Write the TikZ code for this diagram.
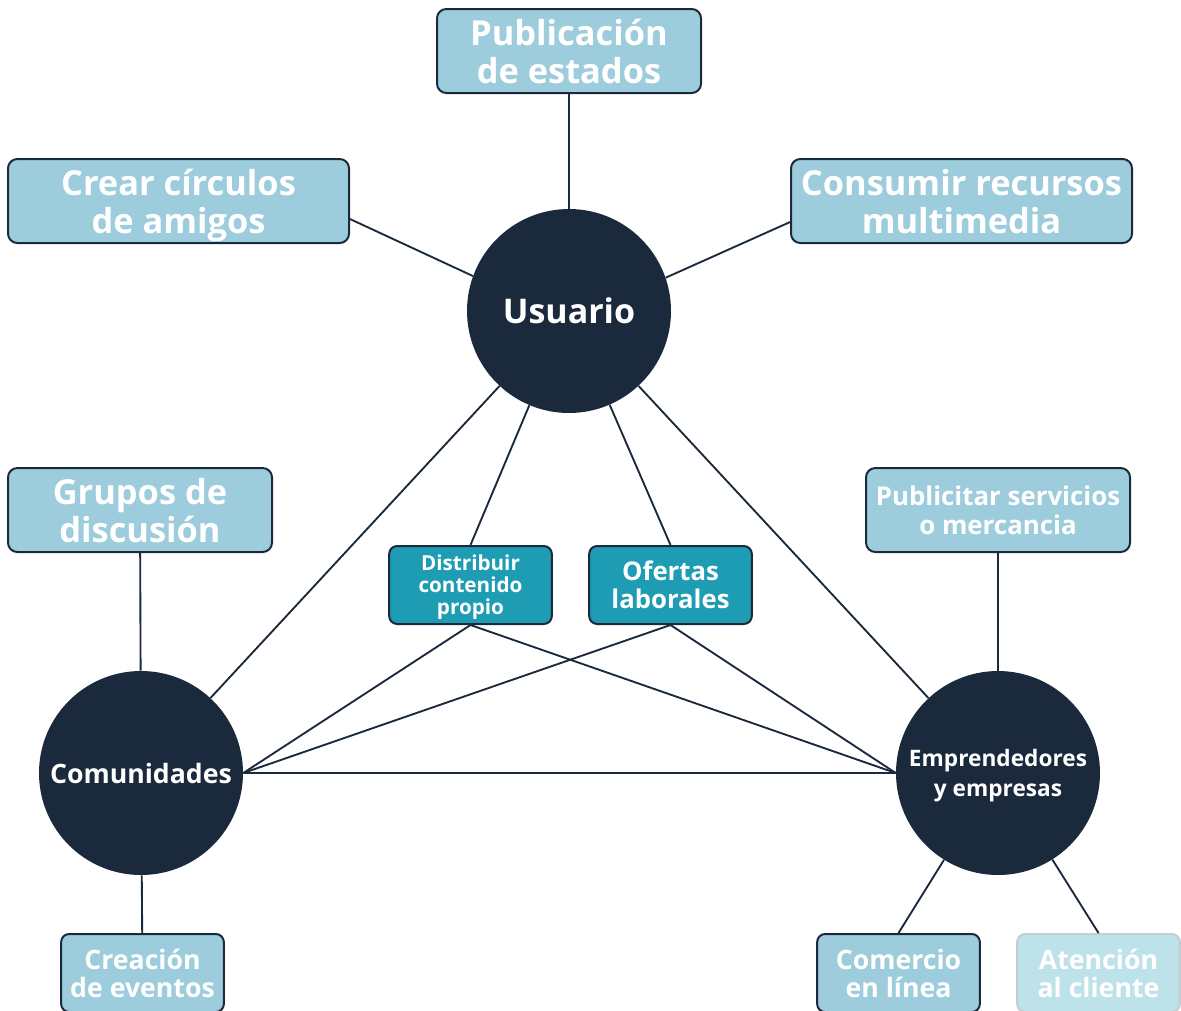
\documentclass[tikz,border=0pt]{standalone}
\usepackage{fontspec}
\setmainfont{Open Sans}
\usepackage{xcolor}
\usepackage{tikz}
\usetikzlibrary{positioning}

\definecolor{navy}{HTML}{1A2A3C}
\definecolor{skyfill}{HTML}{9DCDDC}
\definecolor{tealfill}{HTML}{1E9CB4}
\definecolor{palefill}{HTML}{BEE2EA}
\definecolor{paleline}{HTML}{C4CDD1}

\begin{document}
\begin{tikzpicture}[x=0.75pt, y=-0.75pt,
    every node/.style={text=white, align=center, inner sep=0pt},
    hub/.style={circle, fill=navy, minimum size=153pt},
    topic/.style={draw=navy, line width=1.5pt, fill=skyfill, rounded corners=7pt,
        minimum width=198pt, minimum height=63pt, text depth=0pt,
        execute at begin node={\vphantom{\'I}},
        font=\bfseries\fontsize{25.8}{28.5}\selectfont},
    task/.style={draw=navy, line width=1.5pt, fill=skyfill, rounded corners=6pt,
        minimum width=122pt, minimum height=58.5pt, text depth=0pt,
        execute at begin node={\vphantom{\'I}},
        font=\bfseries\fontsize{20}{21}\selectfont},
    link/.style={navy, line width=1.4pt}]
        \useasboundingbox (0,0) rectangle (1181,1010);

        % Hubs
        \node[hub, font=\bfseries\fontsize{25.5}{30}\selectfont] (usuario) at (569,311) {Usuario};
        \node[hub, font=\bfseries\fontsize{20}{24}\selectfont] (comunidades) at (141,773) {Comunidades};
        \node[hub, text depth=0pt, font=\bfseries\fontsize{17}{22.5}\selectfont] (emprendedores) at (998,773) {Emprendedores\\y empresas};

        % Usuario topics
        \node[topic] (publicacion) at (569,51) {Publicaci\'on\\de estados};
        \node[topic, minimum width=255.75pt] (circulos) at (178.5,201) {Crear c\'irculos\\de amigos};
        \node[topic, minimum width=255.75pt] (multimedia) at (961.5,201) {Consumir recursos\\multimedia};

        % Side topics
        \node[topic] (grupos) at (140,510) {Grupos de\\discusi\'on};
        \node[topic, font=\bfseries\fontsize{19.4}{21.75}\selectfont] (publicitar) at (998,510) {Publicitar servicios\\o mercancia};

        % Shared topics
        \node[task, fill=tealfill, font=\bfseries\fontsize{15.5}{16.5}\selectfont] (distribuir) at (470.5,585) {Distribuir\\contenido\\propio};
        \node[task, fill=tealfill, font=\bfseries\fontsize{19.3}{21}\selectfont] (ofertas) at (670.5,585) {Ofertas\\laborales};

        % Bottom topics
        \node[task] (eventos) at (142.5,973) {Creaci\'on\\de eventos};
        \node[task] (comercio) at (898.5,973) {Comercio\\en l\'inea};
        \node[task, draw=paleline, fill=palefill] (atencion) at (1098.5,973) {Atenci\'on\\al cliente};

        % Connectors
        \draw[link] (publicacion) -- (usuario);
        \draw[link] (circulos.-6) -- (usuario.160);
        \draw[link] (multimedia.187) -- (usuario.19);
        \draw[link] (usuario) -- (comunidades);
        \draw[link] (usuario) -- (emprendedores);
        \draw[link] (usuario) -- (distribuir.north);
        \draw[link] (usuario) -- (ofertas.north);
        \draw[link] (distribuir.south) -- (comunidades.east);
        \draw[link] (ofertas.south) -- (comunidades.east);
        \draw[link] (distribuir.south) -- (emprendedores.west);
        \draw[link] (ofertas.south) -- (emprendedores.west);
        \draw[link] (comunidades.east) -- (emprendedores.west);
        \draw[link] (grupos) -- (comunidades);
        \draw[link] (publicitar) -- (emprendedores);
        \draw[link] (comunidades) -- (eventos);
        \draw[link] (emprendedores) -- (comercio.north);
        \draw[link] (emprendedores) -- (atencion.north);
    \end{tikzpicture}
\end{document}
